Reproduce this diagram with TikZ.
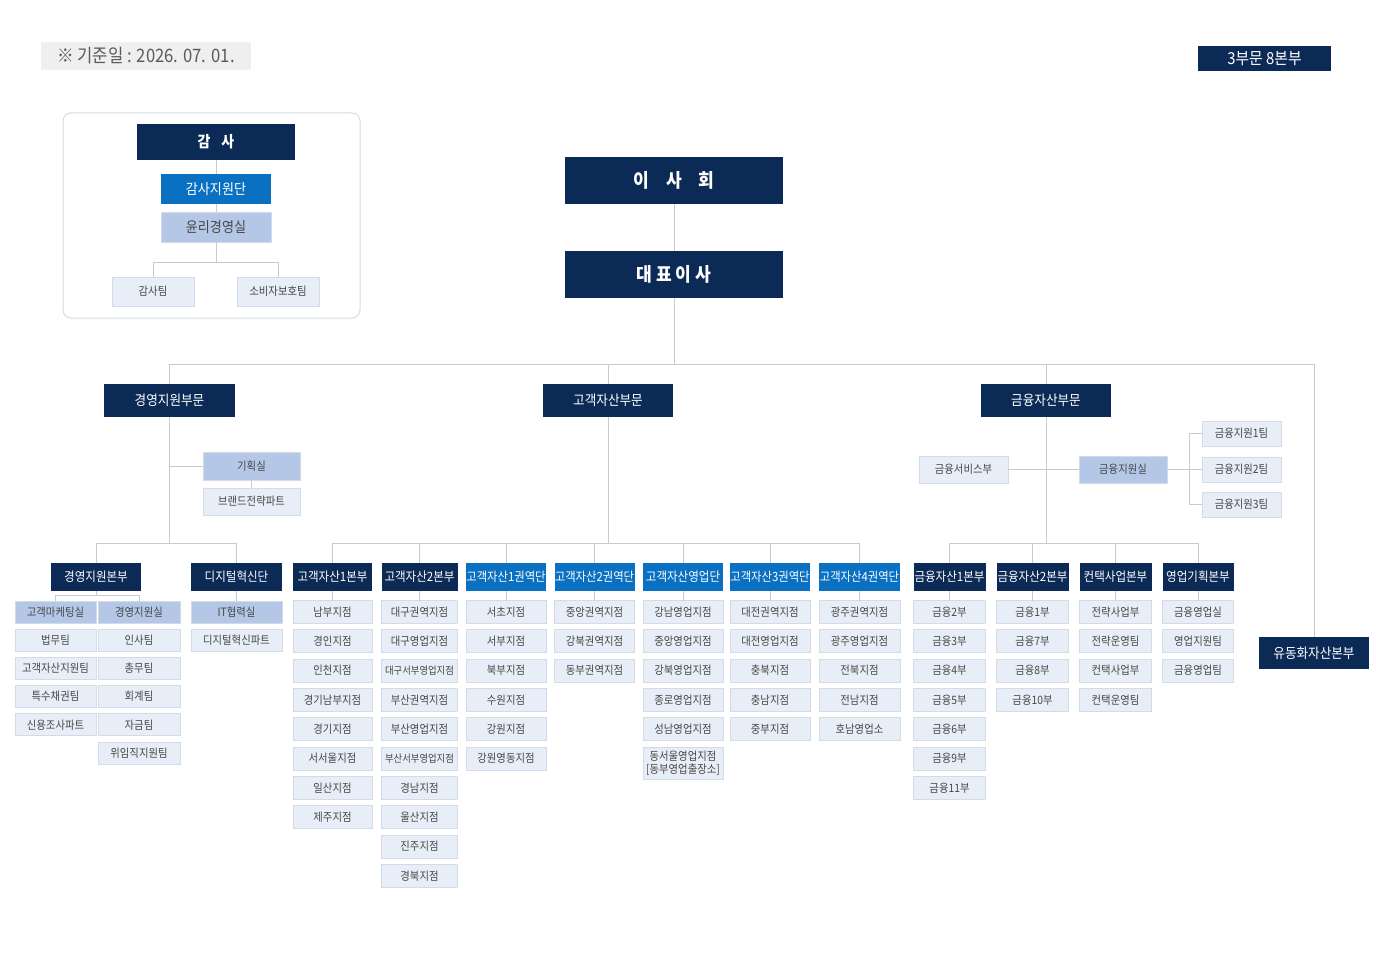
\documentclass[tikz,border=0pt]{standalone}
\usepackage{fontspec}
\setmainfont[FakeStretch=0.9]{Noto Sans CJK KR}
\definecolor{navy}{HTML}{0B2A56}
\definecolor{bblue}{HTML}{0A70C2}
\definecolor{lblue}{HTML}{B4C7E7}
\definecolor{pale}{HTML}{E8EEF7}
\definecolor{paleln}{HTML}{D2DBE7}
\definecolor{ln}{HTML}{CACACA}
\definecolor{txt}{HTML}{474747}
\definecolor{notebg}{HTML}{EFEFEF}
\definecolor{notetx}{HTML}{5A5A5A}
\definecolor{frame}{HTML}{D6DCE5}
\tikzset{
 bx/.style 2 args={minimum width=#1pt, minimum height=#2pt, inner sep=0pt, outer sep=0pt, anchor=center},
 navybox/.style={fill=navy, text=white},
 bluebox/.style={fill=bblue, text=white},
 lbbox/.style={fill=lblue, draw=paleln, line width=0.8pt, text=txt},
 palebox/.style={fill=pale, draw=paleln, line width=0.8pt, text=txt},
 conn/.style={draw=ln, line width=0.9pt},
 fs/.style={font=\fontsize{#1}{#1}\selectfont},
}
\newcommand\orgcol[4]{\foreach \t/\f [count=\i] in {#4} {\node[palebox,bx={#3}{23},fs=\f] (#1-\i) at (#2,{612+(\i-1)*29.3}) {\t};}}
\begin{document}
\begin{tikzpicture}[x=1pt,y=-1pt]
\useasboundingbox[fill=white] (0,0) rectangle (1376,971);
% note and summary
\node[fill=notebg,text=notetx,bx={210}{28},fs=18.5] (note) at (146,56) {※ 기준일 : 2026. 07. 01.};
\node[navybox,bx={133}{25},fs=16.5] (sum) at (1264.5,58.5) {3부문 8본부};
% audit group
\draw[draw=frame, rounded corners=8pt, line width=1pt] (63,113) rectangle (360,318);
\node[navybox,bx={158}{36},fs=15.5] (gamsa) at (216,142) {\bfseries 감\hspace{0.7em}사};
\node[bluebox,bx={110}{30},fs=14.5] (gsjw) at (216,189) {감사지원단};
\node[lbbox,bx={110}{30},fs=14.5] (ethic) at (216,227) {윤리경영실};
\node[palebox,bx={82}{29},fs=11.5] (gteam) at (153,291.5) {감사팀};
\node[palebox,bx={82}{29},fs=11.5] (cteam) at (278,291.5) {소비자보호팀};
\coordinate (gj) at (216,262);
\draw[conn] (gamsa.south) -- (gsjw.north);
\draw[conn] (gsjw.south) -- (ethic.north);
\draw[conn] (ethic.south) -- (gj);
\draw[conn] (gteam.north) -- (gteam.north |- gj) -- (cteam.north |- gj) -- (cteam.north);
% top
\node[navybox,bx={218}{47},fs=19] (board) at (674,180.5) {\bfseries 이\hspace{0.9em}사\hspace{0.9em}회};
\node[navybox,bx={218}{47},fs=19] (ceo) at (674,274.5) {\bfseries 대\hspace{0.2em}표\hspace{0.2em}이\hspace{0.2em}사};
\draw[conn] (board.south) -- (ceo.north);
% divisions
\node[navybox,bx={131}{33},fs=14] (div1) at (169.5,400.5) {경영지원부문};
\node[navybox,bx={130}{33},fs=14] (div2) at (608,400.5) {고객자산부문};
\node[navybox,bx={130}{33},fs=14] (div3) at (1046,400.5) {금융자산부문};
\node[navybox,bx={110}{32},fs=14] (yd) at (1314,653) {유동화자산본부};
\coordinate (busL) at (169.5,364);
\coordinate (busR) at (1314,364);
\draw[conn] (div1.north) -- (busL) -- (busR) -- (yd.north);
\draw[conn] (ceo.south) -- (ceo.south |- busL);
\draw[conn] (div2.north) -- (div2.north |- busL);
\draw[conn] (div3.north) -- (div3.north |- busL);
% management support branch
\node[lbbox,bx={97}{28},fs=11.5] (plan) at (251.5,466) {기획실};
\node[palebox,bx={97}{27},fs=11.5] (brand) at (251.5,501.5) {브랜드전략파트};
\coordinate (j1) at (169.5,543);
\draw[conn] (div1.south) -- (j1);
\draw[conn] (div1.south |- plan.west) -- (plan.west);
\draw[conn] (plan.south) -- (brand.north);
% finance support branch
\node[palebox,bx={89}{27},fs=11.5] (fsvc) at (963.5,469.5) {금융서비스부};
\node[lbbox,bx={88}{27},fs=11.5] (fsup) at (1123,469.5) {금융지원실};
\node[palebox,bx={79}{25},fs=11.5] (ft1) at (1241.5,433.5) {금융지원1팀};
\node[palebox,bx={79}{25},fs=11.5] (ft2) at (1241.5,469.5) {금융지원2팀};
\node[palebox,bx={79}{25},fs=11.5] (ft3) at (1241.5,504.5) {금융지원3팀};
\coordinate (fj) at (1189,469.5);
\draw[conn] (fsvc.east) -- (fsup.west);
\draw[conn] (fsup.east) -- (fj);
\draw[conn] (ft1.west) -- (fj |- ft1.west) -- (fj |- ft3.west) -- (ft3.west);
\draw[conn] (fj) -- (ft2.west);
% header row
\node[navybox,bx={90}{28},fs=12.8] (h0) at (96,577) {경영지원본부};
\node[navybox,bx={91}{28},fs=12.8] (hd) at (236.5,577) {디지털혁신단};
\node[navybox,bx={79}{28},fs=12.8] (h1) at (332.5,577) {고객자산1본부};
\node[navybox,bx={76}{28},fs=12.8] (h2) at (419.5,577) {고객자산2본부};
\node[bluebox,bx={80}{28},fs=12.6] (h3) at (506,577) {고객자산1권역단};
\node[bluebox,bx={80}{28},fs=12.6] (h4) at (594.5,577) {고객자산2권역단};
\node[bluebox,bx={80}{28},fs=12.8] (h5) at (683,577) {고객자산영업단};
\node[bluebox,bx={80}{28},fs=12.6] (h6) at (770,577) {고객자산3권역단};
\node[bluebox,bx={81}{28},fs=12.6] (h7) at (859.5,577) {고객자산4권역단};
\node[navybox,bx={72}{28},fs=12.8] (h8) at (949.5,577) {금융자산1본부};
\node[navybox,bx={72}{28},fs=12.8] (h9) at (1032.5,577) {금융자산2본부};
\node[navybox,bx={72}{28},fs=12.8] (h10) at (1115.5,577) {컨택사업본부};
\node[navybox,bx={71}{28},fs=12.8] (h11) at (1198,577) {영업기획본부};
% buses
\draw[conn] (h0.north) -- (h0.north |- j1) -- (hd.north |- j1) -- (hd.north);
\coordinate (j2) at (608,543);
\draw[conn] (div2.south) -- (j2);
\draw[conn] (h1.north) -- (h1.north |- j2) -- (h7.north |- j2) -- (h7.north);
\foreach \n in {h2,h3,h4,h5,h6} {\draw[conn] (\n.north) -- (\n.north |- j2);}
\coordinate (j3) at (1046,543);
\draw[conn] (div3.south) -- (j3);
\draw[conn] (h8.north) -- (h8.north |- j3) -- (h11.north |- j3) -- (h11.north);
\foreach \n in {h9,h10} {\draw[conn] (\n.north) -- (\n.north |- j3);}
% management HQ children
\foreach \t/\s [count=\i] in {고객마케팅실/lbbox,법무팀/palebox,고객자산지원팀/palebox,특수채권팀/palebox,신용조사파트/palebox} {\node[\s,bx={81}{22},fs=11.5] (ma-\i) at (55.5,{612+(\i-1)*28.2}) {\t};}
\foreach \t/\s [count=\i] in {경영지원실/lbbox,인사팀/palebox,총무팀/palebox,회계팀/palebox,자금팀/palebox,위임직지원팀/palebox} {\node[\s,bx={82}{22},fs=11.5] (mb-\i) at (139,{612+(\i-1)*28.2}) {\t};}
\coordinate (j4) at (96,595);
\draw[conn] (h0.south) -- (j4);
\draw[conn] (ma-1.north) -- (ma-1.north |- j4) -- (mb-1.north |- j4) -- (mb-1.north);
\node[lbbox,bx={91}{22},fs=11.5] (it) at (236.5,612) {IT협력실};
\node[palebox,bx={91}{22},fs=11.5] (dp) at (236.5,640.2) {디지털혁신파트};
\draw[conn] (hd.south) -- (it.north);
% customer asset columns
\orgcol{c1}{332.5}{79}{남부지점/11.5,경인지점/11.5,인천지점/11.5,경기남부지점/11.5,경기지점/11.5,서서울지점/11.5,일산지점/11.5,제주지점/11.5}
\orgcol{c2}{419.5}{76}{대구권역지점/11.5,대구영업지점/11.5,대구서부영업지점/10.4,부산권역지점/11.5,부산영업지점/11.5,부산서부영업지점/10.4,경남지점/11.5,울산지점/11.5,진주지점/11.5,경북지점/11.5}
\orgcol{c3}{506}{80}{서초지점/11.5,서부지점/11.5,북부지점/11.5,수원지점/11.5,강원지점/11.5,강원영동지점/11.5}
\orgcol{c4}{594.5}{80}{중앙권역지점/11.5,강북권역지점/11.5,동부권역지점/11.5}
\orgcol{c5}{683}{80}{강남영업지점/11.5,중앙영업지점/11.5,강북영업지점/11.5,종로영업지점/11.5,성남영업지점/11.5}
\node[palebox,bx={80}{32},fs=11.5,align=center] (c5-6) at (683,763) {동서울영업지점\\[1.5pt][동부영업출장소]};
\orgcol{c6}{770}{80}{대전권역지점/11.5,대전영업지점/11.5,충북지점/11.5,충남지점/11.5,중부지점/11.5}
\orgcol{c7}{859.5}{81}{광주권역지점/11.5,광주영업지점/11.5,전북지점/11.5,전남지점/11.5,호남영업소/11.5}
\orgcol{c8}{949.5}{72}{금융2부/11.5,금융3부/11.5,금융4부/11.5,금융5부/11.5,금융6부/11.5,금융9부/11.5,금융11부/11.5}
\orgcol{c9}{1032.5}{72}{금융1부/11.5,금융7부/11.5,금융8부/11.5,금융10부/11.5}
\orgcol{c10}{1115.5}{72}{전략사업부/11.5,전략운영팀/11.5,컨택사업부/11.5,컨택운영팀/11.5}
\orgcol{c11}{1198}{71}{금융영업실/11.5,영업지원팀/11.5,금융영업팀/11.5}
\foreach \k in {1,...,11} {\draw[conn] (h\k.south) -- (c\k-1.north);}
\end{tikzpicture}
\end{document}
